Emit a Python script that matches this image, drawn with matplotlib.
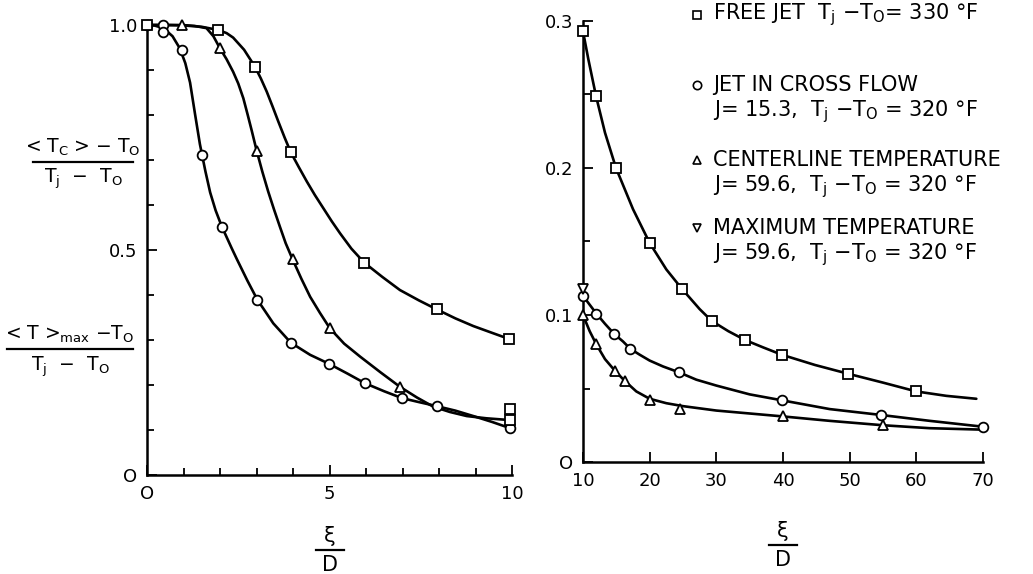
import matplotlib.pyplot as plt
from matplotlib.lines import Line2D
from matplotlib.ticker import MultipleLocator

plt.rcParams['font.family'] = ['DejaVu Sans']
plt.rcParams['mathtext.default'] = 'regular'

# ---- left panel: xi/D from 0 to 10, near field ----
# jet in cross flow J=15.3 (leftmost curve)
cf_line_x = [0, 0.2, 0.45, 0.7, 0.9, 1.05, 1.18, 1.32, 1.45, 1.6, 1.73, 1.88, 2.05, 2.32, 2.46, 2.75, 3.02, 3.46,
             3.94, 4.47, 4.99, 5.5, 5.97, 6.5, 6.98, 7.45, 7.94, 8.45, 8.94, 9.45, 9.95]
cf_line_y = [1.0, 0.999, 0.993, 0.975, 0.948, 0.915, 0.872, 0.80, 0.735, 0.675, 0.628, 0.588, 0.552, 0.504, 0.48,
             0.432, 0.39, 0.337, 0.294, 0.267, 0.247, 0.225, 0.204, 0.186, 0.171, 0.162, 0.153, 0.143, 0.131, 0.118, 0.104]
cf_pts_x = [0, 0.45, 0.45, 0.95, 1.5, 2.05, 3.02, 3.94, 4.99, 5.97, 6.98, 7.94, 9.95]
cf_pts_y = [1.0, 1.0, 0.985, 0.945, 0.712, 0.552, 0.39, 0.294, 0.247, 0.204, 0.171, 0.153, 0.104]

# centerline temperature J=59.6 (middle curve)
cl_line_x = [0, 0.95, 1.3, 1.63, 1.82, 2.0, 2.18, 2.36, 2.5, 2.64, 2.76, 2.87, 3.0, 3.16, 3.32, 3.48, 3.64,
             3.8, 3.99, 4.23, 4.47, 4.74, 5.01, 5.4, 5.84, 6.4, 6.93, 7.4, 7.84, 8.3, 8.76, 9.3, 9.95]
cl_line_y = [1.0, 1.0, 0.998, 0.993, 0.975, 0.948, 0.924, 0.896, 0.87, 0.837, 0.80, 0.765, 0.722, 0.674, 0.63,
             0.59, 0.552, 0.515, 0.479, 0.436, 0.396, 0.36, 0.326, 0.292, 0.263, 0.228, 0.196, 0.172, 0.152, 0.14,
             0.131, 0.126, 0.122]
cl_pts_x = [0.95, 2.0, 3.0, 3.99, 5.01, 6.93, 9.95]
cl_pts_y = [1.0, 0.948, 0.72, 0.479, 0.326, 0.196, 0.122]

# free jet (rightmost curve)
fj_line_x = [0, 0.5, 1.0, 1.5, 1.95, 2.18, 2.36, 2.66, 2.96, 3.12, 3.28, 3.44, 3.6, 3.77, 3.94, 4.16, 4.38,
             4.6, 4.83, 5.06, 5.29, 5.6, 5.95, 6.45, 6.93, 7.45, 7.94, 8.45, 8.94, 9.45, 9.93]
fj_line_y = [1.0, 1.0, 0.999, 0.996, 0.989, 0.982, 0.972, 0.945, 0.907, 0.881, 0.852, 0.819, 0.785, 0.75, 0.717,
             0.684, 0.652, 0.622, 0.593, 0.564, 0.537, 0.503, 0.472, 0.44, 0.411, 0.388, 0.368, 0.348, 0.331,
             0.316, 0.302]
fj_pts_x = [0, 1.95, 2.96, 3.94, 5.95, 7.94, 9.93]
fj_pts_y = [1.0, 0.989, 0.907, 0.717, 0.472, 0.368, 0.302]

# maximum temperature J=59.6
mx_pts_x = [9.95, 9.95]
mx_pts_y = [0.147, 0.122]

# ---- right panel: xi/D from 10 to 70, far field ----
fj2_line_x = [10, 10.8, 11.95, 13.3, 14.95, 17.5, 20, 22.5, 24.8, 27.5, 29.3, 31.8, 34.3, 37, 39.8, 44.8, 49.8,
              55, 60, 64.5, 69]
fj2_line_y = [0.293, 0.274, 0.249, 0.224, 0.2, 0.172, 0.149, 0.131, 0.118, 0.104, 0.096, 0.089, 0.083, 0.078,
              0.073, 0.066, 0.06, 0.054, 0.048, 0.045, 0.043]
fj2_pts_x = [10, 11.95, 14.95, 20, 24.8, 29.3, 34.3, 39.8, 49.8, 60]
fj2_pts_y = [0.293, 0.249, 0.2, 0.149, 0.118, 0.096, 0.083, 0.073, 0.06, 0.048]

cf2_line_x = [10, 11, 12, 13.3, 14.7, 16, 17.1, 18.5, 20, 22, 24.4, 27, 30, 35, 39.8, 47, 54.7, 62, 70]
cf2_line_y = [0.113, 0.107, 0.101, 0.094, 0.087, 0.082, 0.077, 0.073, 0.069, 0.065, 0.061, 0.056, 0.052, 0.046,
              0.042, 0.036, 0.032, 0.028, 0.024]
cf2_pts_x = [10, 12, 14.7, 17.1, 24.4, 39.8, 54.7, 70]
cf2_pts_y = [0.113, 0.101, 0.087, 0.077, 0.061, 0.042, 0.032, 0.024]

cl2_line_x = [10, 11, 12, 13.3, 14.8, 16.3, 18, 20, 22.5, 25, 30, 35, 40, 47, 55, 62, 70]
cl2_line_y = [0.1, 0.089, 0.08, 0.07, 0.062, 0.055, 0.048, 0.043, 0.04, 0.038, 0.035, 0.033, 0.031, 0.028, 0.025,
              0.023, 0.022]
cl2_pts_x = [10, 12, 14.8, 16.3, 20, 24.6, 40, 55]
cl2_pts_y = [0.1, 0.08, 0.062, 0.055, 0.042, 0.036, 0.031, 0.025]

mx2_pts_x = [10]
mx2_pts_y = [0.118]

legend_lines = [
    ('s', 'FREE JET  $T_j$ $-$$T_O$= 330 °F', None),
    ('o', 'JET IN CROSS FLOW', 'J= 15.3,  $T_j$ $-$$T_O$ = 320 °F'),
    ('^', 'CENTERLINE TEMPERATURE', 'J= 59.6,  $T_j$ $-$$T_O$ = 320 °F'),
    ('v', 'MAXIMUM TEMPERATURE', 'J= 59.6,  $T_j$ $-$$T_O$ = 320 °F'),
]

W, H = 1033, 574
fig = plt.figure(figsize=(W / 100, H / 100), dpi=100)

line_kw = dict(color='black', lw=1.9, solid_capstyle='round', solid_joinstyle='round', clip_on=False)
mark_kw = dict(ls='none', mfc='white', mec='black', mew=1.3, ms=7, clip_on=False, zorder=5)


def style_axis(ax):
    for s in ['top', 'right']:
        ax.spines[s].set_visible(False)
    for s in ['left', 'bottom']:
        ax.spines[s].set_linewidth(1.8)
    ax.tick_params(which='both', direction='in', width=1.3, labelsize=13, pad=7)
    ax.tick_params(which='major', length=7)
    ax.tick_params(which='minor', length=5)


# left axes
ax1 = fig.add_axes([147 / W, 1 - 475 / H, 365 / W, 450 / H])
ax1.plot(cf_line_x, cf_line_y, **line_kw)
ax1.plot(cl_line_x, cl_line_y, **line_kw)
ax1.plot(fj_line_x, fj_line_y, **line_kw)
ax1.plot(cf_pts_x, cf_pts_y, marker='o', **mark_kw)
ax1.plot(cl_pts_x, cl_pts_y, marker='^', **mark_kw)
ax1.plot(fj_pts_x, fj_pts_y, marker='s', **{**mark_kw, 'ms': 6.5})
ax1.plot(mx_pts_x, mx_pts_y, marker='s', **{**mark_kw, 'ms': 6.5})
ax1.set_xlim(0, 10)
ax1.set_ylim(0, 1.0)
ax1.set_xticks([0, 5, 10])
ax1.set_xticklabels(['O', '5', '10'])
ax1.set_yticks([0, 0.5, 1.0])
ax1.set_yticklabels(['O', '0.5', '1.0'])
ax1.xaxis.set_minor_locator(MultipleLocator(1))
ax1.yaxis.set_minor_locator(MultipleLocator(0.1))
style_axis(ax1)

# right axes
ax2 = fig.add_axes([583 / W, 1 - 462 / H, 400 / W, 441 / H])
ax2.plot(fj2_line_x, fj2_line_y, **line_kw)
ax2.plot(cf2_line_x, cf2_line_y, **line_kw)
ax2.plot(cl2_line_x, cl2_line_y, **line_kw)
ax2.plot(fj2_pts_x, fj2_pts_y, marker='s', **{**mark_kw, 'ms': 6.5})
ax2.plot(cf2_pts_x, cf2_pts_y, marker='o', **mark_kw)
ax2.plot(cl2_pts_x, cl2_pts_y, marker='^', **mark_kw)
ax2.plot(mx2_pts_x, mx2_pts_y, marker='v', **mark_kw)
ax2.set_xlim(10, 70)
ax2.set_ylim(0, 0.3)
ax2.set_xticks([10, 20, 30, 40, 50, 60, 70])
ax2.set_yticks([0, 0.1, 0.2, 0.3])
ax2.set_yticklabels(['O', '0.1', '0.2', '0.3'])
ax2.yaxis.set_minor_locator(MultipleLocator(0.05))
style_axis(ax2)


def fraction(xc, y_line, half_w, top, bottom, size=13.5):
    fig.text(xc / W, 1 - (y_line - 4) / H, top, ha='center', va='bottom', fontsize=size)
    fig.text(xc / W, 1 - (y_line + 5) / H, bottom, ha='center', va='top', fontsize=size)
    fig.add_artist(Line2D([(xc - half_w) / W, (xc + half_w) / W], [1 - y_line / H, 1 - y_line / H],
                          color='black', lw=1.6, transform=fig.transFigure))


fraction(83, 162, 50, r'< $T_C$ > $-$ $T_O$', r'$T_j$  $-$  $T_O$')
fraction(70, 349, 63, r'< T >$_{max}$ $-$$T_O$', r'$T_j$  $-$  $T_O$')
fraction(330, 550, 14, 'ξ', 'D', size=15)
fraction(783, 545, 14, 'ξ', 'D', size=15)

# legend block
rows_y = [15, 85, 160, 228]
for (m, first, second), y in zip(legend_lines, rows_y):
    fig.add_artist(Line2D([697 / W], [1 - y / H], marker=m, ms=6, mfc='white', mec='black',
                          mew=1.2, ls='none', transform=fig.transFigure))
    fig.text(713 / W, 1 - y / H, first, ha='left', va='center', fontsize=15)
    if second:
        fig.text(713 / W, 1 - (y + 27) / H, second, ha='left', va='center', fontsize=15)

fig.savefig('out.png', dpi=100)
